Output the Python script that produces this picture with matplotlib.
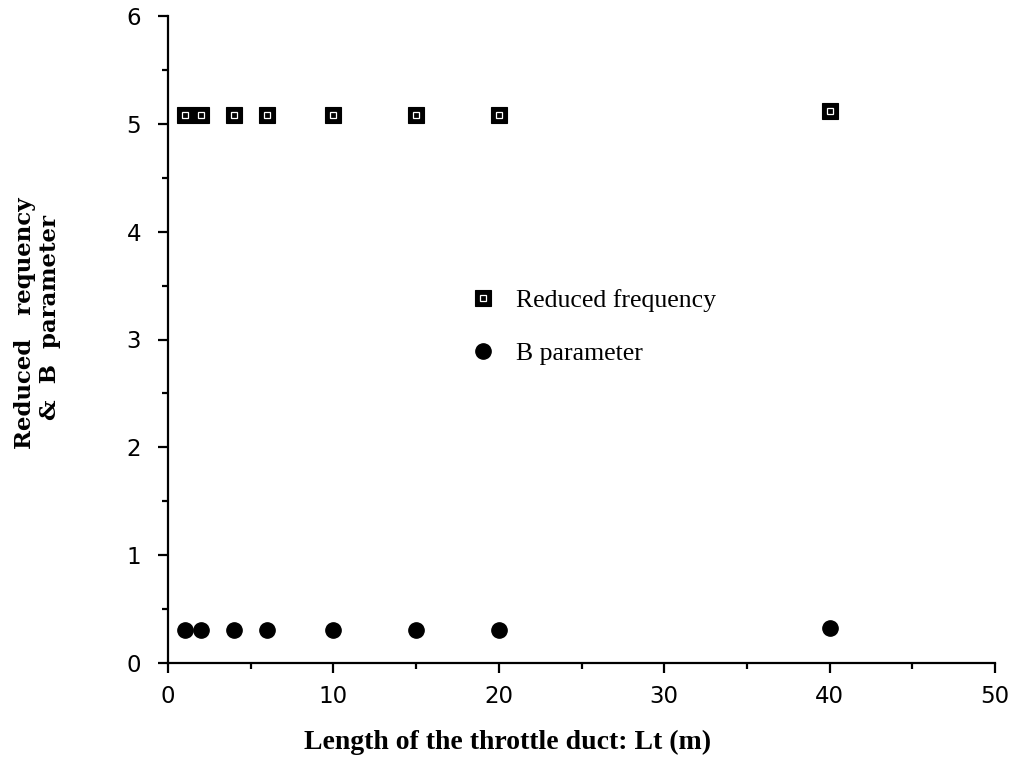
import matplotlib
matplotlib.use("Agg")
import matplotlib.pyplot as plt
from matplotlib.ticker import MultipleLocator
from matplotlib.legend_handler import HandlerTuple

# Throttle duct length (m)
lengths = [1, 2, 4, 6, 10, 15, 20, 40]
# Reduced frequency at each length
reduced_freq = [5.08, 5.08, 5.08, 5.08, 5.08, 5.08, 5.08, 5.12]
# B parameter at each length
b_param = [0.31, 0.31, 0.31, 0.31, 0.31, 0.31, 0.31, 0.32]

x_ticks = [0, 10, 20, 30, 40, 50]
y_ticks = [0, 1, 2, 3, 4, 5, 6]

fig = plt.figure(figsize=(10.16, 7.74), dpi=100)
ax = fig.add_axes([168 / 1016, 1 - 663 / 774, (995 - 168) / 1016, (663 - 16) / 774])

# Reduced frequency: black square with small white inner square
sq_outer, = ax.plot(lengths, reduced_freq, linestyle="none", marker="s",
                    markersize=11, markerfacecolor="black", markeredgecolor="black",
                    markeredgewidth=0.8, clip_on=False)
sq_inner, = ax.plot(lengths, reduced_freq, linestyle="none", marker="s",
                    markersize=4.0, markerfacecolor="none", markeredgecolor="white",
                    markeredgewidth=0.9, clip_on=False)
# B parameter: filled black circles
circ, = ax.plot(lengths, b_param, linestyle="none", marker="o",
                markersize=11, markerfacecolor="black", markeredgecolor="black",
                clip_on=False)

ax.set_xlim(0, 50)
ax.set_ylim(0, 6)
ax.set_xticks(x_ticks)
ax.set_yticks(y_ticks)
ax.xaxis.set_minor_locator(MultipleLocator(5))
ax.yaxis.set_minor_locator(MultipleLocator(0.5))

for side in ("top", "right"):
    ax.spines[side].set_visible(False)
for side in ("left", "bottom"):
    ax.spines[side].set_linewidth(1.6)

ax.tick_params(which="major", direction="out", length=7.5, width=1.6,
               labelsize=16.5)
ax.tick_params(which="minor", direction="out", length=4.5, width=1.6)
ax.tick_params(axis="y", which="major", pad=12)
ax.tick_params(axis="x", which="major", pad=8)
for lab in ax.get_xticklabels() + ax.get_yticklabels():
    lab.set_fontfamily("DejaVu Sans")

ax.legend([(sq_outer, sq_inner), circ], ["Reduced frequency", "B parameter"],
          handler_map={tuple: HandlerTuple(ndivide=1)},
          frameon=False, loc="center left",
          bbox_to_anchor=((461 - 168) / (995 - 168), (663 - 327) / (663 - 16)),
          prop={"family": "Liberation Serif", "size": 18.5},
          labelspacing=1.15, handlelength=0.9, handletextpad=0.85,
          borderaxespad=0)

fig.text(508 / 1016, 1 - 742 / 774, "Length of the throttle duct: Lt (m)",
         ha="center", va="center", family="Liberation Serif",
         fontweight="bold", fontsize=20)

fig.text(25 / 1016, 1 - 323 / 774, "Reduced   requency",
         ha="center", va="center", rotation=90, family="DejaVu Serif",
         fontweight="bold", fontsize=16.5)
fig.text(50 / 1016, 1 - 317 / 774, "&  B  parameter",
         ha="center", va="center", rotation=90, family="DejaVu Serif",
         fontweight="bold", fontsize=16.5)

fig.savefig("out.png", dpi=100)
